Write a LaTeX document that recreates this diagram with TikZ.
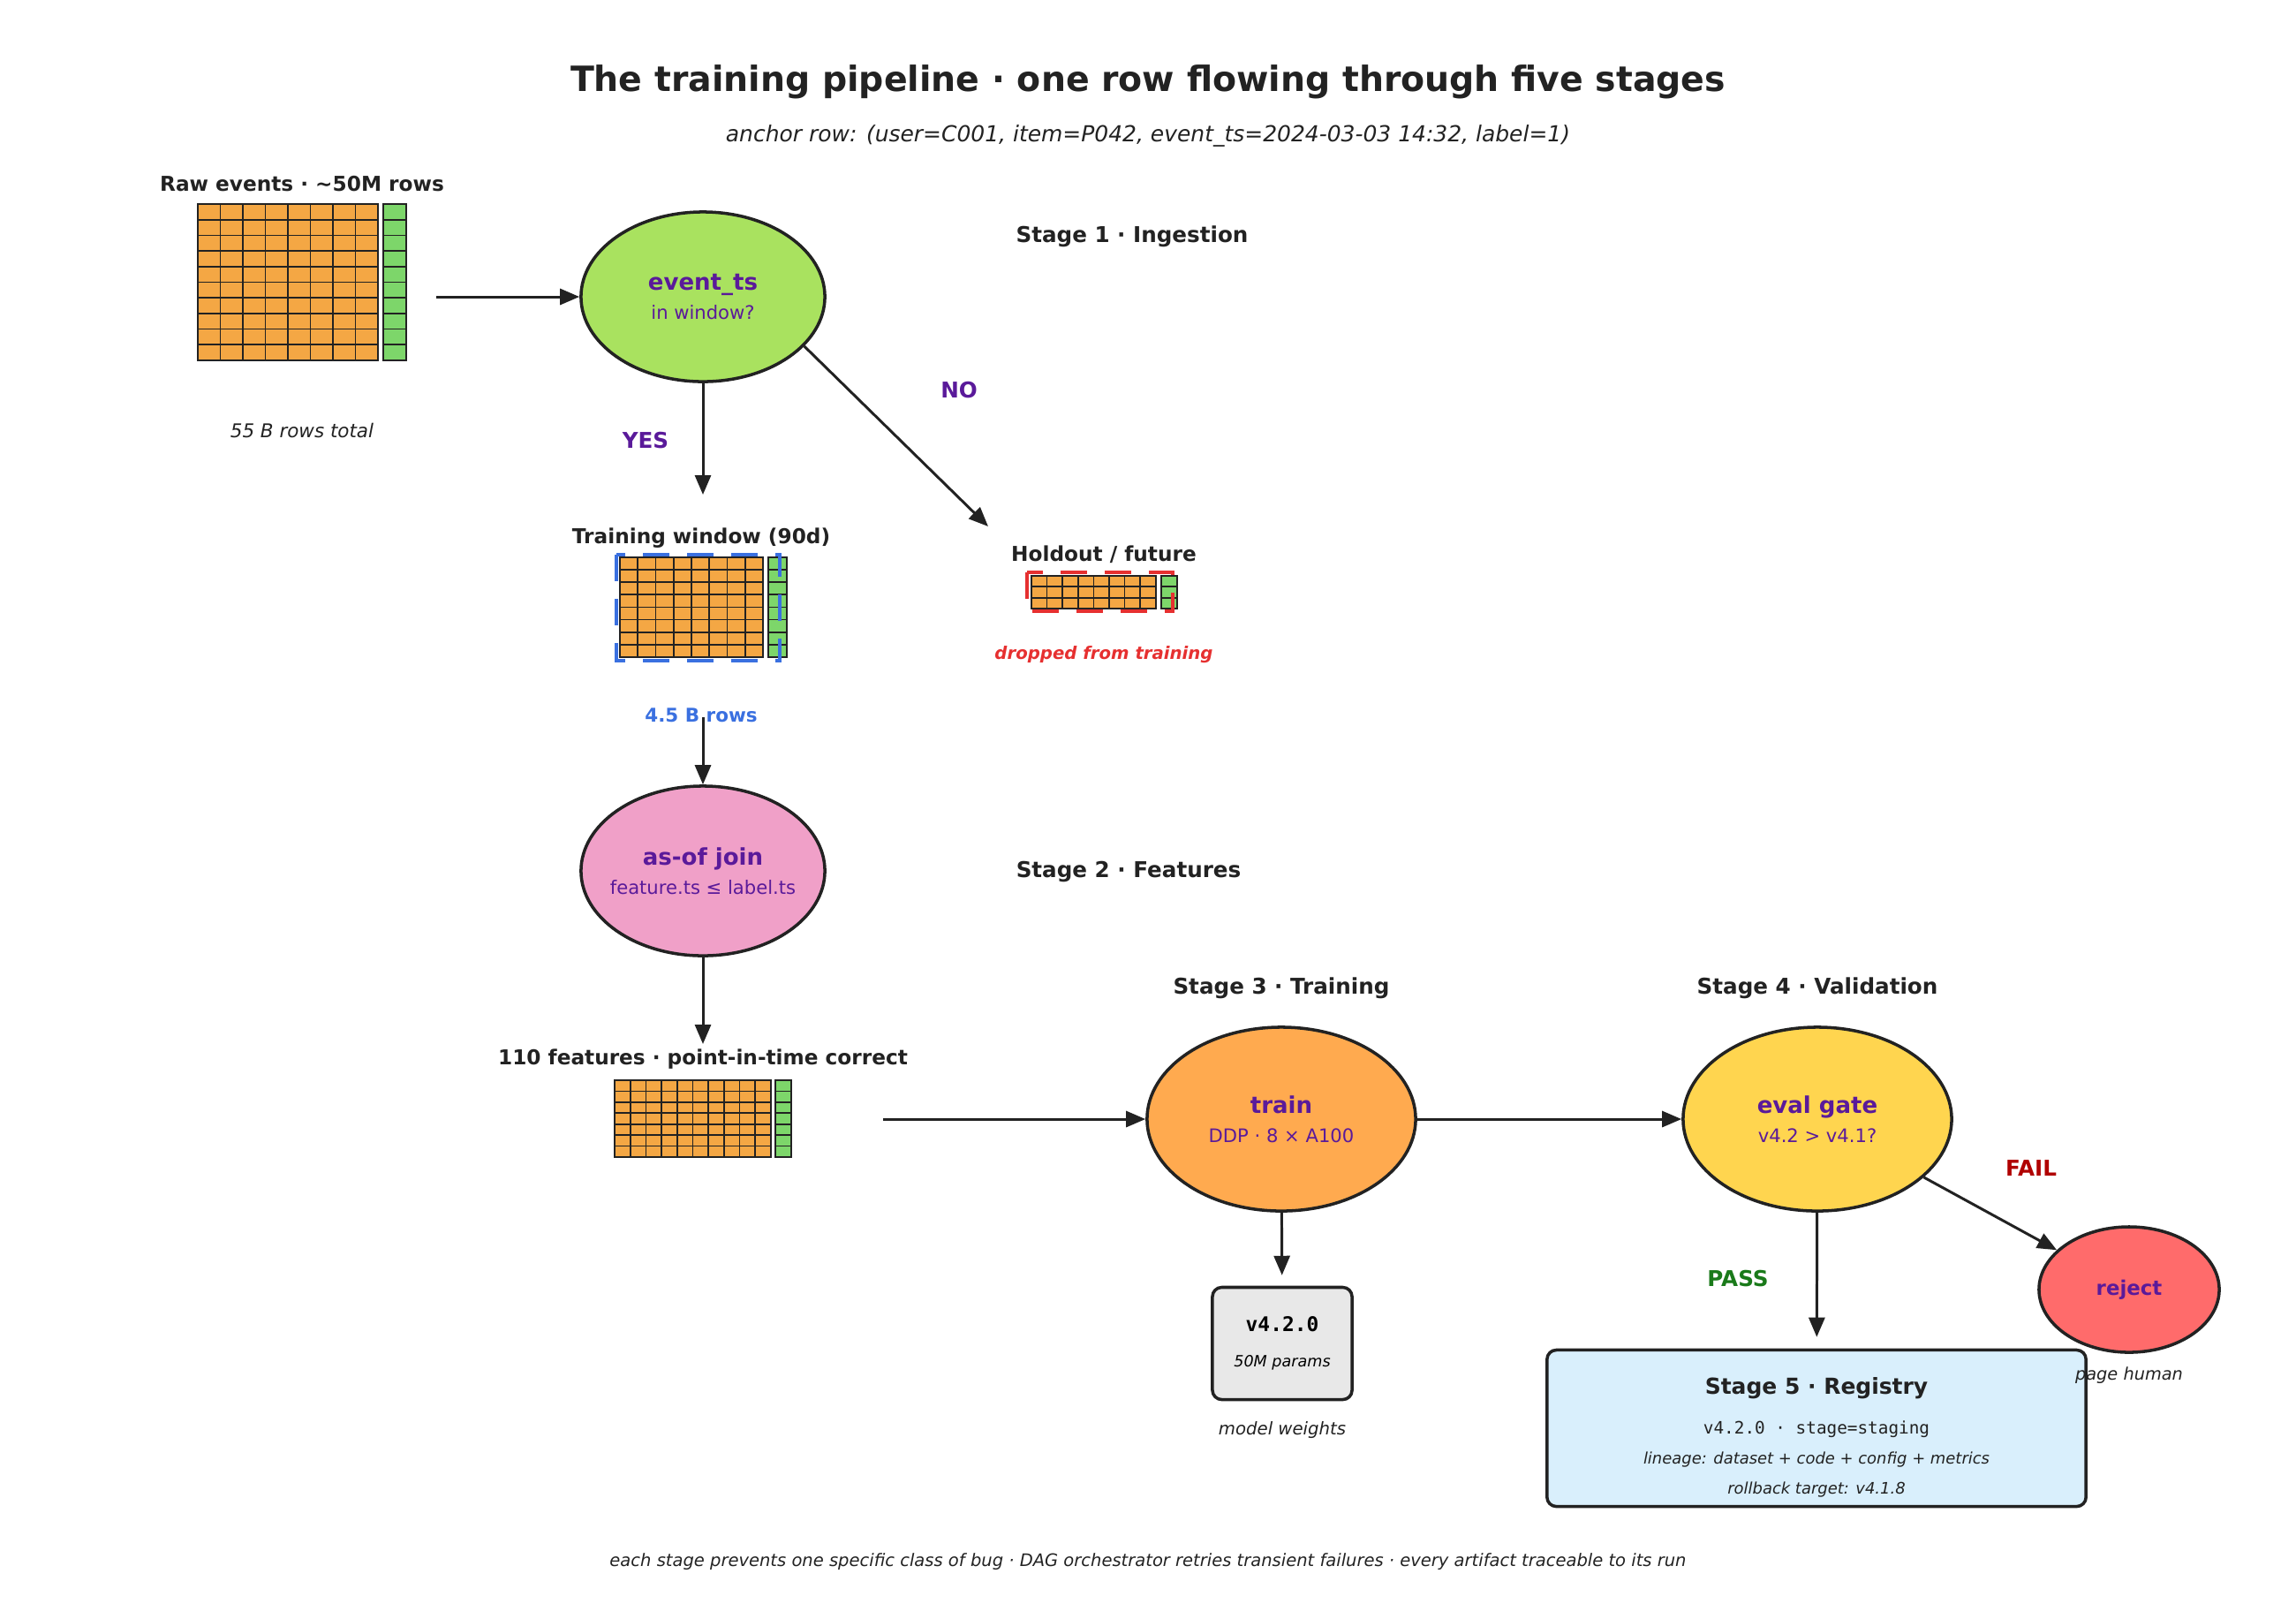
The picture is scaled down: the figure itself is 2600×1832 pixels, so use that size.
\documentclass[tikz,border=0pt]{standalone}
\usepackage{fontspec}
\setmainfont{DejaVu Sans}
\setmonofont{DejaVu Sans Mono}
\usetikzlibrary{arrows.meta,shapes.geometric}

\definecolor{ink}{HTML}{222222}
\definecolor{cellorange}{HTML}{F4A744}
\definecolor{cellgreen}{HTML}{7DD66A}
\definecolor{winfill}{HTML}{A9E25F}
\definecolor{joinfill}{HTML}{F0A0C8}
\definecolor{trainfill}{HTML}{FFAA4F}
\definecolor{evalfill}{HTML}{FFD54F}
\definecolor{rejfill}{HTML}{FF6B6B}
\definecolor{nodepurple}{HTML}{5A1A9A}
\definecolor{passgreen}{HTML}{1A7A1A}
\definecolor{failred}{HTML}{B00000}
\definecolor{winblue}{HTML}{3A70E0}
\definecolor{dropred}{HTML}{E63030}
\definecolor{regfill}{HTML}{D9EFFC}
\definecolor{wfill}{HTML}{E8E8E8}

% x0, y0, columns, rows, cell w, cell h, label column x, label column w
\newcommand{\datagrid}[8]{%
  \foreach \c in {1,...,#3}
    \foreach \r in {1,...,#4}
      \draw[cell,fill=cellorange] ({#1+(\c-1)*#5},{#2+(\r-1)*#6}) rectangle +(#5,#6);
  \foreach \r in {1,...,#4}
    \draw[cell,fill=cellgreen] ({#7},{#2+(\r-1)*#6}) rectangle +(#8,#6);
}

\begin{document}
\begin{tikzpicture}[x=0.01cm,y=-0.01cm,
  cell/.style={draw=ink,line width=0.5pt},
  stage/.style={ellipse,draw=ink,line width=1pt,inner ysep=0pt,inner xsep=-3pt,align=center,
    text=nodepurple,font=\fontsize{6}{9.4}\selectfont},
  big/.style={minimum width=2.76cm,minimum height=1.92cm},
  wide/.style={minimum width=3.04cm,minimum height=2.08cm},
  flow/.style={-{Triangle[length=2.2mm,width=1.8mm]},ink,line width=0.85pt},
  sec/.style={font=\fontsize{6.6}{8}\selectfont\bfseries,text=ink},
  stg/.style={font=\fontsize{7}{8}\selectfont\bfseries,text=ink},
  note/.style={font=\fontsize{5.6}{7}\selectfont\itshape,text=ink},
  verdict/.style={font=\fontsize{7}{8}\selectfont\bfseries},
  frame/.style={line width=1.4pt,dash pattern=on 0.3cm off 0.2cm},
  ]
\useasboundingbox (0,0) rectangle (2600,1832);

% titles
\node[font=\fontsize{11.2}{13}\selectfont\bfseries,text=ink] (title) at (1300,93)
  {The training pipeline · one row flowing through five stages};
\node[font=\fontsize{7.1}{9}\selectfont\itshape,text=ink] (subtitle) at (1300,154)
  {anchor row: (user=C001, item=P042, event\_ts=2024-03-03 14:32, label=1)};

% stage 1
\node[sec] (rawlbl) at (342,208) {Raw events · \textasciitilde50M rows};
\datagrid{224}{231}{8}{10}{25.5}{17.7}{434}{26}
\node[note,font=\fontsize{6.1}{7}\selectfont\itshape] (rawnote) at (342,487) {55 B rows total};
\node[stg] (stage1) at (1282,268) {Stage 1 · Ingestion};
\node[stage,big,fill=winfill] (window) at (796,336)
  {{\fontsize{7.4}{9.4}\selectfont\bfseries event\_ts}\\in window?};

\node[sec] (twinlbl) at (794,609) {Training window (90d)};
\datagrid{702}{631}{8}{8}{20.25}{14.1}{870}{21}
\draw[frame,winblue] (698,628) rectangle (883,748);
\node[font=\fontsize{6.1}{7}\selectfont\bfseries,text=winblue] (rows) at (794,810) {4.5 B rows};

\node[sec] (holdlbl) at (1250,628) {Holdout / future};
\datagrid{1168}{652}{8}{3}{17.6}{12.3}{1315}{18}
\draw[frame,dropred] (1163,648) rectangle (1328,692);
\node[font=\fontsize{5.6}{7}\selectfont\bfseries\itshape,text=dropred] (dropped) at (1250,741)
  {dropped from training};

\node[verdict,text=nodepurple] (yes) at (731,499) {YES};
\node[verdict,text=nodepurple] (no) at (1086,442) {NO};

% stage 2
\node[stage,big,fill=joinfill] (asof) at (796,986)
  {{\fontsize{7.4}{9.4}\selectfont\bfseries as-of join}\\feature.ts ≤ label.ts};
\node[stg] (stage2) at (1278,987) {Stage 2 · Features};
\node[sec] (featlbl) at (796,1199) {110 features · point-in-time correct};
\datagrid{696}{1223}{10}{7}{17.7}{12.4}{878}{18}

% stage 3 and 4
\node[stg] (stage3) at (1451,1119) {Stage 3 · Training};
\node[stg] (stage4) at (2058,1119) {Stage 4 · Validation};
\node[stage,wide,fill=trainfill] (train) at (1451,1267)
  {{\fontsize{7.4}{9.4}\selectfont\bfseries train}\\DDP · 8 × A100};
\node[stage,wide,fill=evalfill] (evalgate) at (2058,1267)
  {{\fontsize{7.4}{9.4}\selectfont\bfseries eval gate}\\v4.2 > v4.1?};
\node[draw=ink,line width=1pt,fill=wfill,rounded corners=3pt,minimum width=1.58cm,
  minimum height=1.27cm,align=center,inner sep=0pt,font=\fontsize{5}{11.4}\selectfont] (weights) at (1452,1521)
  {{\fontsize{6.5}{11.4}\selectfont\ttfamily\bfseries v4.2.0}\\
   {\itshape 50M params}};
\node[note] (wnote) at (1452,1619) {model weights};

% stage 5
\node[draw=ink,line width=1pt,fill=regfill,rounded corners=3pt,minimum width=6.1cm,
  minimum height=1.77cm] (registry) at (2057,1617) {};
\node[align=center,text=ink,inner sep=0pt,font=\fontsize{5.1}{9.7}\selectfont] (regtext) at (2057,1627)
  {{\fontsize{7.1}{9.7}\selectfont\bfseries Stage 5 · Registry}\\[3.1pt]
   {\fontsize{5.5}{9.7}\selectfont\ttfamily v4.2.0 · stage=staging}\\
   {\itshape lineage: dataset + code + config + metrics}\\
   {\itshape rollback target: v4.1.8}};

\node[verdict,text=passgreen] (pass) at (1968,1448) {PASS};
\node[verdict,text=failred] (fail) at (2300,1322) {FAIL};
\node[stage,minimum width=2.04cm,minimum height=1.42cm,fill=rejfill,
  font=\fontsize{6.5}{8}\selectfont\bfseries] (reject) at (2411,1460) {reject};
\node[note,font=\fontsize{5.5}{7}\selectfont\itshape] (rejnote) at (2411,1557) {page human};

\node[font=\fontsize{5.55}{7}\selectfont\itshape,text=ink] (footer) at (1300,1768)
  {each stage prevents one specific class of bug · DAG orchestrator retries transient failures · every artifact traceable to its run};

% connectors
\coordinate (rawout) at (494,336);
\coordinate (twin) at (796,560);
\coordinate (holdin) at (1119,596);
\coordinate (rowsout) at (796,812);
\coordinate (featin) at (796,1182);
\coordinate (featout) at (1000,1267);
\path[flow]
  (rawout) edge (window)
  (window) edge (twin)
  (window.-26) edge (holdin)
  (rowsout) edge (asof)
  (asof) edge (featin)
  (featout) edge (train)
  (train) edge (evalgate)
          edge[shorten >=3.4pt] (weights)
  (evalgate) edge[shorten >=3.7pt] (registry)
             edge (reject);
\end{tikzpicture}
\end{document}
